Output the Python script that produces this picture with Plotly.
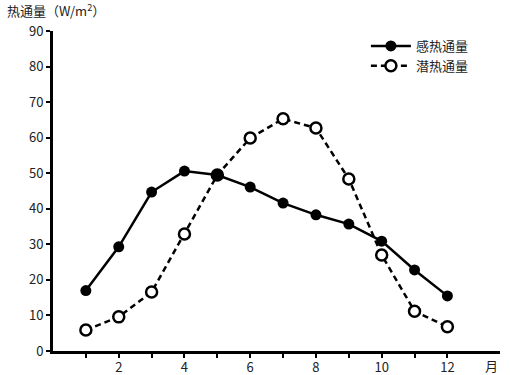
import plotly.graph_objects as go

months = list(range(1, 13))
sensible = [17, 29.3, 44.7, 50.6, 49.5, 46.1, 41.6, 38.3, 35.7, 30.9, 22.8, 15.5]
latent = [5.9, 9.6, 16.6, 32.9, 49.5, 59.9, 65.3, 62.7, 48.4, 27.0, 11.2, 6.8]
x_major_ticks = [2, 4, 6, 8, 10, 12]
x_minor_ticks = [1, 3, 5, 7, 9, 11]
y_tickvals = list(range(0, 100, 10))

FONT = "Noto Sans CJK SC, Noto Sans, sans-serif"

fig = go.Figure()
fig.add_trace(go.Scatter(
    x=months, y=latent, name="潜热通量", mode="lines+markers",
    line=dict(color="black", width=2.5, dash="6px,4px"),
    marker=dict(symbol="circle", size=11, color="white", line=dict(color="black", width=2.5)),
))
fig.add_trace(go.Scatter(
    x=months, y=sensible, name="感热通量", mode="lines+markers",
    line=dict(color="black", width=2.5),
    marker=dict(symbol="circle", size=11, color="black"),
))

fig.update_layout(
    width=510, height=375,
    margin=dict(l=53, r=10, t=31, b=24, autoexpand=False),
    paper_bgcolor="white", plot_bgcolor="white",
    font=dict(family=FONT, size=13, color="#222"),
    showlegend=True,
    legend=dict(x=0.70, y=1.0, xanchor="left", yanchor="top",
                traceorder="reversed", itemwidth=40,
                font=dict(size=13, color="#222"),
                bgcolor="rgba(0,0,0,0)", tracegroupgap=0),
    xaxis=dict(range=[0, 13.6], tickmode="array", tickvals=x_major_ticks,
               minor=dict(tickmode="array", tickvals=x_minor_ticks, ticks="outside",
                          ticklen=4, tickwidth=2, tickcolor="black", showgrid=False),
               automargin=False,
               showgrid=False, zeroline=False, showline=True, linecolor="black", linewidth=3,
               ticks="outside", ticklen=4, tickwidth=2, tickcolor="black",
               ticklabelstandoff=-2,
               tickfont=dict(size=13, color="#222")),
    yaxis=dict(range=[0, 90], tickmode="array", tickvals=y_tickvals,
               automargin=False,
               showgrid=False, zeroline=False, showline=True, linecolor="black", linewidth=3,
               ticks="outside", ticklen=4, tickwidth=2, tickcolor="black",
               tickfont=dict(size=13, color="#222")),
)
fig.add_annotation(text="热通量（W/m<sup>2</sup>）", xref="paper", yref="paper", x=-0.108, y=1.065,
                   xanchor="left", yanchor="middle", showarrow=False,
                   font=dict(size=13, color="#222"))
fig.add_annotation(text="月", xref="paper", yref="paper", x=1.0, y=-0.045,
                   xanchor="right", yanchor="middle", showarrow=False,
                   font=dict(size=13, color="#222"))

fig.write_html("out.html", config={"displayModeBar": False},
               post_script="document.body.style.margin='0';document.body.style.padding='0';")
